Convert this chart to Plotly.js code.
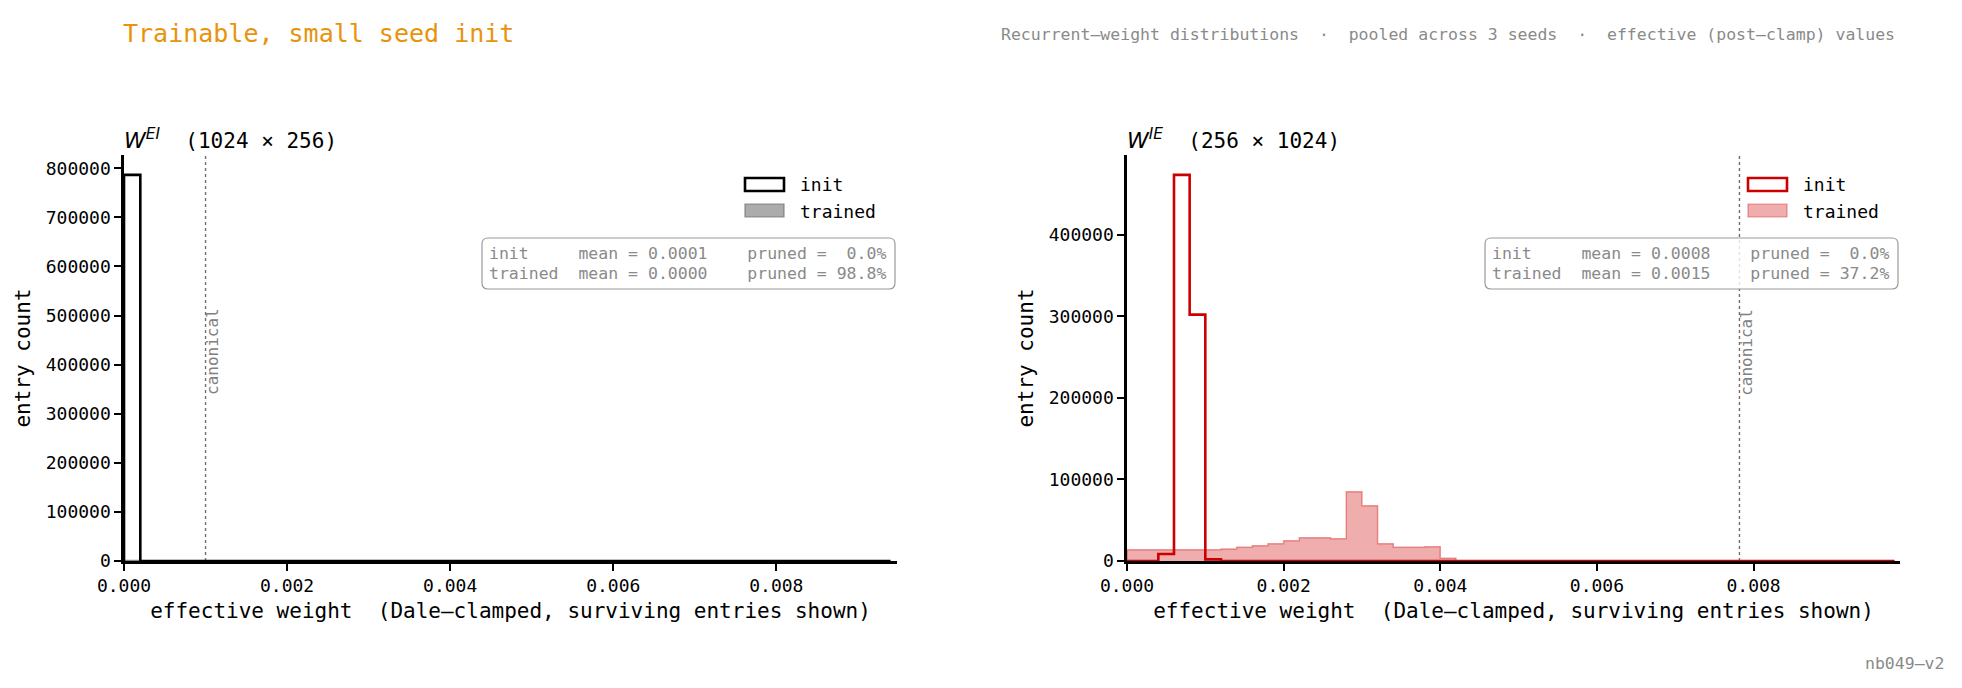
<!DOCTYPE html>
<html><head><meta charset="utf-8">
<script src="https://cdn.plot.ly/plotly-3.0.1.min.js"></script>
<style>html,body{margin:0;padding:0;background:#fff}</style>
</head><body><div id="chart" style="width:1962px;height:688px"></div>
<script>
// ---------------- data ----------------
const binWidth = 0.0002;   // histogram bin width (effective weight units)

// W^EI (1024 x 256): counts per bin, bins start at 0
const eiInitCounts = [786432,0,0,0,0,0,0,0,0,0,0,0,0,0,0,0,0,0,0,0,0,0,0,0,0,0,0,0,0,0,0,0,0,0,0,0,0,0,0,0,0,0,0,0,0,0,0];
const eiTrainedCounts = [1200,0,0,0,0,0,0,0,0,0,0,0,0,0,0,0,0,0,0,0,0,0,0,0,0,0,0,0,0,0,0,0,0,0,0,0,0,0,0,0,0,0,0,0,0,0,0];

// W^IE (256 x 1024)
const ieInitCounts = [0,0,8600,473600,302200,2000,0,0,0,0,0,0,0,0,0,0,0,0,0,0,0,0,0,0,0,0,0,0,0,0,0,0,0,0,0,0,0,0,0,0,0,0,0,0,0,0,0,0,0];
const ieTrainedCounts = [13900,13900,13900,13900,13900,13900,14700,16800,18800,21300,24900,28600,28600,27400,85000,67900,21300,16800,16800,17600,3300,180,140,110,90,70,50,40,30,20,20,10,10,10,10,0,0,0,0,0,0,0,0,0,0,0,0,0,0];

const canonicalEI = 0.001;
const canonicalIE = 0.00782;

const statsEI = {initMean: 0.0001, trainedMean: 0.0000, initPruned: 0.0, trainedPruned: 98.8};
const statsIE = {initMean: 0.0008, trainedMean: 0.0015, initPruned: 0.0, trainedPruned: 37.2};

const panelTitles = ['<i>W<sup>EI</sup></i>', '<i>W<sup>IE</sup></i>'];
const panelShapes = ['(1024 × 256)', '(256 × 1024)'];
const seriesNames = ['init', 'trained'];
const xTitle = 'effective weight  (Dale\u2013clamped, surviving entries shown)';
const yTitle = 'entry count';
const figTitle = 'Trainable, small seed init';
const figSubtitle = 'Recurrent\u2013weight distributions  ·  pooled across 3 seeds  ·  effective (post\u2013clamp) values';
const footer = 'nb049\u2013v2';

// ---------------- helpers ----------------
const FW = 1962, FH = 688;
const X = p => p / FW;
const Y = p => 1 - p / FH;
const nb = s => s.replace(/ /g, '\u00A0');
const MONO = 'DejaVu Sans Mono';

function stepXY(counts) {
  const xs = [0], ys = [0];
  counts.forEach((c, i) => { xs.push(i * binWidth); ys.push(c); });
  xs.push(counts.length * binWidth); ys.push(0);
  return {xs, ys};
}
function rr(x0, y0, x1, y1, r) {
  const f = (a, b) => X(a) + ',' + Y(b);
  return 'M ' + f(x0 + r, y0) + ' L ' + f(x1 - r, y0) + ' Q ' + f(x1, y0) + ' ' + f(x1, y0 + r) +
    ' L ' + f(x1, y1 - r) + ' Q ' + f(x1, y1) + ' ' + f(x1 - r, y1) +
    ' L ' + f(x0 + r, y1) + ' Q ' + f(x0, y1) + ' ' + f(x0, y1 - r) +
    ' L ' + f(x0, y0 + r) + ' Q ' + f(x0, y0) + ' ' + f(x0 + r, y0) + ' Z';
}
function statLines(s) {
  const m = v => v.toFixed(4);
  const p = v => (v.toFixed(1)).padStart(4, ' ') + '%';
  return [
    'init     mean = ' + m(s.initMean) + '    pruned = ' + p(s.initPruned),
    'trained  mean = ' + m(s.trainedMean) + '    pruned = ' + p(s.trainedPruned)
  ];
}

const RED = '#cc0000';
const panels = [
  {xa: 'x', ya: 'y', init: eiInitCounts, trained: eiTrainedCounts, canon: canonicalEI, stats: statsEI,
   initColor: '#000000', trFill: 'rgba(128,128,128,0.65)', trLine: 'rgba(110,110,110,0.75)',
   left: 124, right: 897},
  {xa: 'x2', ya: 'y2', init: ieInitCounts, trained: ieTrainedCounts, canon: canonicalIE, stats: statsIE,
   initColor: RED, trFill: 'rgba(204,0,0,0.32)', trLine: 'rgba(215,40,40,0.45)',
   left: 1127, right: 1900}
];

const traces = [], shapes = [], annotations = [];
panels.forEach((P, k) => {
  const t = stepXY(P.trained), i = stepXY(P.init);
  traces.push({type: 'scatter', mode: 'lines', x: t.xs, y: t.ys, xaxis: P.xa, yaxis: P.ya,
    line: {shape: 'hv', color: P.trLine, width: 1.5}, fill: 'tozeroy', fillcolor: P.trFill,
    name: seriesNames[1], showlegend: false, hoverinfo: 'skip'});
  traces.push({type: 'scatter', mode: 'lines', x: i.xs, y: i.ys, xaxis: P.xa, yaxis: P.ya,
    line: {shape: 'hv', color: P.initColor, width: 2.6},
    name: seriesNames[0], showlegend: false, hoverinfo: 'skip'});

  // canonical dotted line
  shapes.push({type: 'line', xref: P.xa, yref: P.ya + ' domain', x0: P.canon, x1: P.canon, y0: 0, y1: 1,
    line: {color: '#6f6f6f', width: 1.4, dash: 'dot'}, layer: 'below'});
  annotations.push({xref: P.xa, yref: P.ya + ' domain', x: P.canon, y: 0.515, text: 'canonical',
    textangle: -90, showarrow: false, xanchor: 'left', yanchor: 'middle', xshift: -4,
    font: {family: MONO, size: 16, color: '#808080'}});

  // manual legend (patches)
  const lx0 = P.right - 152, lx1 = P.right - 113;
  shapes.push({type: 'rect', xref: 'paper', yref: 'paper', x0: X(lx0), x1: X(lx1), y0: Y(178), y1: Y(191),
    line: {color: P.initColor, width: 2.6}, fillcolor: '#ffffff', layer: 'above'});
  shapes.push({type: 'rect', xref: 'paper', yref: 'paper', x0: X(lx0), x1: X(lx1), y0: Y(204), y1: Y(217),
    line: {color: P.trLine, width: 1.2}, fillcolor: P.trFill, layer: 'above'});
  annotations.push({xref: 'paper', yref: 'paper', x: X(lx1 + 14), y: Y(185), text: seriesNames[0], showarrow: false,
    xanchor: 'left', yanchor: 'middle', font: {family: MONO, size: 18, color: '#000'}});
  annotations.push({xref: 'paper', yref: 'paper', x: X(lx1 + 14), y: Y(211), text: seriesNames[1], showarrow: false,
    xanchor: 'left', yanchor: 'middle', font: {family: MONO, size: 18, color: '#000'}});

  // stats box
  const bx1 = P.right - 2, bx0 = bx1 - 413;
  shapes.push({type: 'path', xref: 'paper', yref: 'paper', path: rr(bx0, 238, bx1, 289, 6),
    line: {color: '#9a9a9a', width: 1.2}, fillcolor: 'rgba(255,255,255,0.8)', layer: 'above'});
  const L = statLines(P.stats);
  L.forEach((s, j) => annotations.push({xref: 'paper', yref: 'paper', x: X(bx0 + 5), y: Y(253.5 + 20 * j),
    text: nb(s), showarrow: false, xanchor: 'left', yanchor: 'middle',
    font: {family: MONO, size: 16.5, color: '#8a8a8a'}}));

  // panel title
  annotations.push({xref: 'paper', yref: 'paper', x: X(P.left - 2), y: Y(139),
    text: '<span style="font-family:DejaVu Sans;font-size:22px">' + panelTitles[k] + '</span>' + nb('  ' + panelShapes[k]),
    showarrow: false, xanchor: 'left', yanchor: 'middle', font: {family: MONO, size: 21, color: '#000'}});
});

annotations.push({xref: 'paper', yref: 'paper', x: X(121), y: Y(34), text: figTitle, showarrow: false,
  xanchor: 'left', yanchor: 'middle', font: {family: MONO, size: 25, color: '#e8930c'}});
annotations.push({xref: 'paper', yref: 'paper', x: X(1897), y: Y(35), text: nb(figSubtitle), showarrow: false,
  xanchor: 'right', yanchor: 'middle', font: {family: MONO, size: 16.5, color: '#8a8a8a'}});
annotations.push({xref: 'paper', yref: 'paper', x: X(1946), y: Y(663), text: footer, showarrow: false,
  xanchor: 'right', yanchor: 'middle', font: {family: MONO, size: 16.5, color: '#8a8a8a'}});

const tickFont = {family: MONO, size: 18, color: '#000'};
const titleFont = {family: MONO, size: 21, color: '#000'};
function xAxis(dom, rng, anchor) {
  return {domain: dom, range: rng, anchor: anchor, showline: true, linecolor: '#000', linewidth: 2.6,
    ticks: 'outside', ticklen: 7, tickwidth: 2, tickcolor: '#000', dtick: 0.002, tick0: 0, tickformat: '.3f',
    showgrid: false, zeroline: false, tickfont: tickFont,
    title: {text: xTitle, font: titleFont, standoff: 8}};
}
function yAxis(rng, anchor) {
  return {domain: [Y(561), Y(155)], range: rng, anchor: anchor, showline: true, linecolor: '#000', linewidth: 2.6,
    ticks: 'outside', ticklen: 7, tickwidth: 2, tickcolor: '#000', dtick: 100000, tick0: 0, tickformat: 'd',
    showgrid: false, zeroline: false, tickfont: tickFont,
    title: {text: yTitle, font: titleFont, standoff: 10}};
}

const layout = {
  width: FW, height: FH, margin: {l: 0, r: 0, t: 0, b: 0},
  paper_bgcolor: '#fff', plot_bgcolor: '#fff', showlegend: false,
  xaxis: xAxis([X(124), X(897)], [0, 0.00948], 'y'),
  yaxis: yAxis([0, 827000], 'x'),
  xaxis2: xAxis([X(1127), X(1900)], [0, 0.00987], 'y2'),
  yaxis2: yAxis([0, 498000], 'x2'),
  shapes: shapes, annotations: annotations
};
Plotly.newPlot('chart', traces, layout, {staticPlot: true, displayModeBar: false});
</script>
</body></html>
